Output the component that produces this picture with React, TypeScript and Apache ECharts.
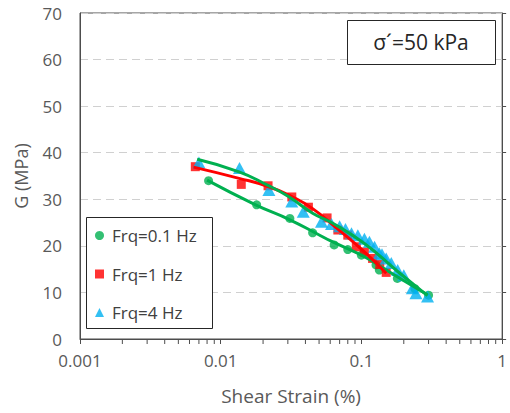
import React, { useEffect, useRef } from "react";
import * as echarts from "echarts";

// Frq = 0.1 Hz (green circles)
const strain01 = [0.0082, 0.018, 0.031, 0.045, 0.064, 0.08, 0.1, 0.127, 0.134, 0.18, 0.24, 0.3];
const g01 = [34.0, 28.8, 25.9, 22.8, 20.2, 19.2, 18.0, 15.9, 14.8, 13.0, 10.8, 9.4];

// Frq = 1 Hz (red squares)
const strain1 = [0.0066, 0.014, 0.0217, 0.032, 0.042, 0.057, 0.068, 0.08, 0.092, 0.105, 0.12, 0.135, 0.15];
const g1 = [37.0, 33.2, 32.9, 30.5, 28.3, 26.0, 23.4, 22.3, 19.8, 18.7, 17.3, 16.0, 14.3];

// Frq = 4 Hz (blue triangles)
const strain4 = [0.007, 0.0136, 0.022, 0.032, 0.0386, 0.052, 0.0613, 0.07, 0.077, 0.085, 0.0943, 0.105, 0.114, 0.124, 0.134, 0.14, 0.15, 0.163, 0.181, 0.2, 0.23, 0.244, 0.295];
const g4 = [37.9, 36.7, 32.0, 29.5, 27.3, 25.2, 24.7, 24.2, 23.6, 22.7, 22.3, 21.5, 20.9, 19.8, 18.4, 18.2, 17.3, 16.3, 14.8, 13.7, 10.9, 9.8, 9.1];

// Trend lines
const trend01X = [0.008, 0.0177, 0.031, 0.049, 0.061, 0.1, 0.13, 0.181, 0.295];
const trend01Y = [34.1, 28.8, 25.6, 22.5, 21.0, 18.0, 16.0, 13.3, 9.5];
const trend1X = [0.0064, 0.0135, 0.022, 0.032, 0.045, 0.068, 0.105, 0.15];
const trend1Y = [36.9, 34.5, 32.7, 30.6, 28.0, 23.6, 18.7, 14.1];
const trend4X = [0.0068, 0.0135, 0.0213, 0.0303, 0.045, 0.0613, 0.105, 0.181, 0.295];
const trend4Y = [38.6, 35.9, 33.1, 30.6, 27.0, 25.0, 20.5, 14.5, 9.3];

const seriesNames = ["Frq=0.1 Hz", "Frq=1 Hz", "Frq=4 Hz"];
const yTicks = { min: 0, max: 70, interval: 10 };
const xRange = { min: 0.001, max: 1 };
const decades = [0.001, 0.01, 0.1];

const GREEN = "#00b050";
const RED = "#ff0000";
const BLUE = "#00b0f0";
const FONT = "Open Sans";

const zip = (xs: number[], ys: number[]) => xs.map((x, i) => [x, ys[i]]);

export default function App() {
  const ref = useRef<HTMLDivElement>(null);
  useEffect(() => {
    if (!ref.current) return;
    const chart = echarts.init(ref.current, null, { renderer: "svg" });
    const axisColor = "#595959";
    chart.setOption({
      animation: false,
      textStyle: { fontFamily: FONT },
      grid: {
        left: 80,
        right: 5,
        top: 13,
        bottom: 74,
        show: true,
        borderColor: "#4d4d4d",
        borderWidth: 1,
        backgroundColor: "transparent",
      },
      xAxis: {
        type: "log",
        logBase: 10,
        min: xRange.min,
        max: xRange.max,
        name: "Shear Strain (%)",
        nameLocation: "middle",
        nameGap: 47,
        nameTextStyle: { fontSize: 19, color: axisColor, fontFamily: FONT },
        axisLine: { show: true, lineStyle: { color: "#4d4d4d", width: 1 } },
        axisTick: { show: true, inside: false, length: 5, lineStyle: { color: "#4d4d4d" } },
        axisLabel: {
          fontSize: 17,
          color: axisColor,
          margin: 13,
          fontFamily: FONT,
          formatter: (v: number) => String(+v.toPrecision(6)),
        },
        splitLine: { show: false },
        minorTick: { show: false },
      },
      yAxis: [
        {
          type: "value",
          min: yTicks.min,
          max: yTicks.max,
          interval: yTicks.interval,
          name: "G (MPa)",
          nameLocation: "middle",
          nameGap: 50,
          nameTextStyle: { fontSize: 18, color: axisColor, fontFamily: FONT },
          axisLine: { show: true, lineStyle: { color: "#4d4d4d", width: 1 } },
          axisTick: { show: false },
          axisLabel: { fontSize: 17, color: axisColor, margin: 18, fontFamily: FONT },
          splitLine: { show: true, lineStyle: { color: "#d0d0d0", type: [8, 5], width: 1 } },
        },
        {
          type: "value",
          position: "right",
          min: yTicks.min,
          max: yTicks.max,
          interval: yTicks.interval,
          axisLine: { show: true, lineStyle: { color: "#4d4d4d", width: 1 } },
          axisTick: { show: true, inside: false, length: 4, lineStyle: { color: "#4d4d4d" } },
          axisLabel: { show: false },
          splitLine: { show: false },
        },
      ],
      legend: {
        orient: "vertical",
        left: 95,
        top: 227,
        padding: 0,
        itemGap: 21.5,
        itemWidth: 9,
        itemHeight: 9,
        textStyle: { fontSize: 17, lineHeight: 16, color: "#404040", fontFamily: FONT, padding: [0, 0, 0, 3] },
        data: [
          { name: seriesNames[0], icon: "circle" },
          { name: seriesNames[1], icon: "rect" },
          { name: seriesNames[2], icon: "triangle" },
        ],
      },
      series: [
        {
          name: seriesNames[0],
          type: "scatter",
          data: zip(strain01, g01),
          symbol: "circle",
          symbolSize: 9,
          itemStyle: { color: GREEN },
        },
        {
          name: seriesNames[1],
          type: "scatter",
          data: zip(strain1, g1),
          symbol: "rect",
          symbolSize: 9,
          itemStyle: { color: RED },
        },
        {
          name: seriesNames[2],
          type: "scatter",
          data: zip(strain4, g4),
          symbol: "triangle",
          symbolSize: [13, 12],
          itemStyle: { color: BLUE },
        },
        {
          name: "trend 0.1",
          type: "line",
          data: zip(trend01X, trend01Y),
          smooth: true,
          showSymbol: false,
          lineStyle: { color: GREEN, width: 3 },
          silent: true,
        },
        {
          name: "trend 1",
          type: "line",
          data: zip(trend1X, trend1Y),
          smooth: true,
          showSymbol: false,
          lineStyle: { color: RED, width: 3 },
          silent: true,
        },
        {
          name: "trend 4",
          type: "line",
          data: zip(trend4X, trend4Y),
          smooth: true,
          showSymbol: false,
          lineStyle: { color: GREEN, width: 3 },
          silent: true,
        },
      ],
    });

    // minor log ticks at 2..9 of each decade, positioned through the axis scale
    const y0 = chart.convertToPixel({ yAxisIndex: 0 }, 0) as number;
    const minor: any[] = [];
    decades.forEach((d) => {
      for (let k = 2; k <= 9; k++) {
        const x = chart.convertToPixel({ xAxisIndex: 0 }, d * k) as number;
        minor.push({
          type: "line",
          silent: true,
          shape: { x1: x, y1: y0, x2: x, y2: y0 + 5 },
          style: { stroke: "#4d4d4d", lineWidth: 1 },
        });
      }
    });

    chart.setOption({
      graphic: [
        {
          type: "rect",
          left: 86,
          top: 217,
          shape: { width: 126, height: 111 },
          style: { fill: "#ffffff", stroke: "#262626", lineWidth: 1 },
          z: 1,
          silent: true,
        },
        {
          type: "rect",
          left: 347,
          top: 20,
          shape: { width: 148, height: 44 },
          style: { fill: "#ffffff", stroke: "#262626", lineWidth: 1 },
          z: 1,
          silent: true,
        },
        {
          type: "text",
          x: 421,
          y: 42,
          style: {
            text: "σ´=50 kPa",
            fontSize: 21,
            fontFamily: FONT,
            fill: "#262626",
            align: "center",
            verticalAlign: "middle",
          },
          z: 2,
          silent: true,
        },
        ...minor,
      ],
    });

    return () => chart.dispose();
  }, []);
  return (
    <div
      ref={ref}
      style={{ position: "fixed", left: 0, top: 0, width: 510, height: 413, background: "#fff" }}
    />
  );
}
